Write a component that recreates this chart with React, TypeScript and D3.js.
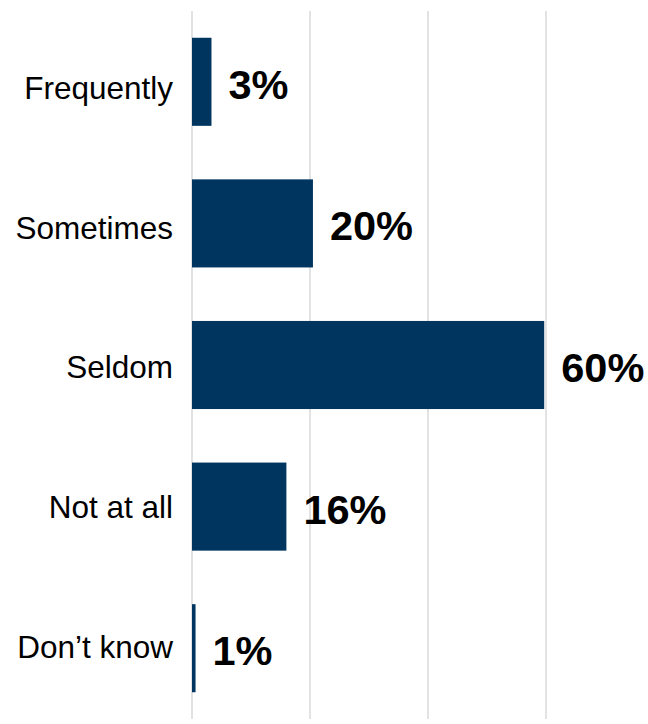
import React from "react";
import * as d3 from "d3";

const categories = ["Frequently", "Sometimes", "Seldom", "Not at all", "Don\u2019t know"];
const values = [3.3, 20.5, 59.7, 16.0, 0.6];
const valueLabels = ["3%", "20%", "60%", "16%", "1%"];
const gridTicks = [0, 20, 40, 60, 80];

const W = 648;
const H = 724;

export default function App() {
  const x = d3.scaleLinear().domain([0, 80]).range([192, 664]);
  const y = d3
    .scaleBand<string>()
    .domain(categories)
    .range([11, 719])
    .paddingInner(0.378)
    .paddingOuter(0.189);
  // category labels sit on a slightly tighter band than the bars
  const yLabel = d3.scalePoint<string>().domain(categories).range([87.5, 646]);
  const bw = y.bandwidth();
  const font = "Arial, 'Liberation Sans', sans-serif";
  return (
    <svg
      width={W}
      height={H}
      style={{ position: "absolute", left: 0, top: 0, display: "block", background: "#fff" }}
    >
      {gridTicks.map((t) => (
        <line
          key={t}
          x1={x(t)}
          x2={x(t)}
          y1={11}
          y2={719}
          stroke="#d9d9d9"
          strokeWidth={1.5}
        />
      ))}
      {categories.map((c, i) => {
        const yc = (y(c) as number) + bw / 2;
        return (
          <g key={c}>
            <rect
              x={x(0)}
              y={y(c)}
              width={x(values[i]) - x(0)}
              height={bw}
              fill="#00355F"
            />
            <text
              x={173}
              y={(yLabel(c) as number) + 11.5}
              textAnchor="end"
              fontFamily={font}
              fontSize={31.5}
              fill="#000"
            >
              {c}
            </text>
            <text
              x={x(values[i]) + 17}
              y={yc + 17}
              fontFamily={font}
              fontSize={41.5}
              fontWeight="bold"
              fill="#000"
            >
              {valueLabels[i]}
            </text>
          </g>
        );
      })}
    </svg>
  );
}
